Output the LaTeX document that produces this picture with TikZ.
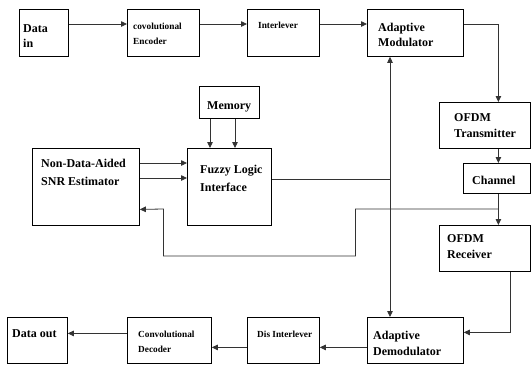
\documentclass[tikz,border=0pt]{standalone}
\usepackage{fontspec}
\setmainfont{Liberation Serif}
\usetikzlibrary{arrows.meta}
\begin{document}
\begin{tikzpicture}[x=1pt,y=-1pt,
  box/.style={draw=black,line width=0.8pt,inner sep=0pt,anchor=north west},
  big/.style={inner sep=0pt,anchor=base west,font=\bfseries\fontsize{12}{14}\selectfont},
  small/.style={inner sep=0pt,anchor=base west,font=\bfseries\fontsize{9.3}{11}\selectfont},
  conn/.style={draw=black!80,line width=0.8pt},
  arr/.style={conn,-{Triangle[length=6pt,width=5.5pt]}},
  arrboth/.style={conn,{Triangle[length=6pt,width=5.5pt]}-{Triangle[length=6pt,width=5.5pt]}}]
\useasboundingbox (0,0) rectangle (531,365);
% boxes
\node[box,minimum width=49pt,minimum height=47pt] (datain) at (19,9) {};
\node[box,minimum width=72pt,minimum height=47pt] (enc) at (127,9) {};
\node[box,minimum width=72pt,minimum height=47pt] (intl) at (247,9) {};
\node[box,minimum width=96pt,minimum height=47pt] (amod) at (367,9) {};
\node[box,minimum width=91pt,minimum height=46pt] (ofdmtx) at (439,102) {};
\node[box,minimum width=67pt,minimum height=30pt] (chan) at (463,163) {};
\node[box,minimum width=91pt,minimum height=46pt] (ofdmrx) at (439,225) {};
\node[box,minimum width=96pt,minimum height=46pt] (ademod) at (367,317) {};
\node[box,minimum width=72pt,minimum height=46pt] (dint) at (247,317) {};
\node[box,minimum width=84pt,minimum height=46pt] (dec) at (127,317) {};
\node[box,minimum width=60pt,minimum height=46pt] (dout) at (7,317) {};
\node[box,minimum width=60pt,minimum height=32pt] (mem) at (199,86) {};
\node[box,minimum width=84pt,minimum height=77pt] (fuzzy) at (187,148) {};
\node[box,minimum width=107pt,minimum height=77pt] (nda) at (32,148) {};
% texts
\node[big] (t1) at (23,32) {Data};
\node[big] (t2) at (23,47) {in};
\node[small] (t3) at (133,29) {covolutional};
\node[small] (t4) at (133,44) {Encoder};
\node[small] (t5) at (258,28) {Interlever};
\node[big] (t6) at (378,31) {Adaptive};
\node[big] (t7) at (378,46) {Modulator};
\node[big] (t8) at (454,121) {OFDM};
\node[big] (t9) at (454,137) {Transmitter};
\node[big] (t10) at (472,184) {Channel};
\node[big] (t11) at (447,242) {OFDM};
\node[big] (t12) at (447,258) {Receiver};
\node[big] (t13) at (373,339) {Adaptive};
\node[big] (t14) at (373,355) {Demodulator};
\node[small] (t15) at (257,337) {Dis Interlever};
\node[small] (t16) at (138,337) {Convolutional};
\node[small] (t17) at (138,352) {Decoder};
\node[big] (t18) at (12,337) {Data out};
\node[big] (t19) at (207,109) {Memory};
\node[big] (t20) at (200,173) {Fuzzy Logic};
\node[big] (t21) at (200,191) {Interface};
\node[big] (t22) at (41,167) {Non-Data-Aided};
\node[big] (t23) at (41,185) {SNR Estimator};
% connectors top row
\draw[arr] ([yshift=-15pt]datain.north east) -- ([yshift=-15pt]enc.north west);
\draw[arr] ([yshift=-15pt]enc.north east) -- ([yshift=-15pt]intl.north west);
\draw[arr] ([yshift=-15pt]intl.north east) -- ([yshift=-15pt]amod.north west);
\draw[arr] ([yshift=-15pt]amod.north east) -| ([xshift=13.5pt]ofdmtx.north);
\draw[arr] ([xshift=13.5pt]ofdmtx.south) -- ([xshift=13.5pt]ofdmtx.south |- chan.north);
\draw[arr] ([xshift=13.5pt]ofdmtx.south |- chan.south) -- ([xshift=13.5pt]ofdmrx.north);
% feedback to SNR estimator
\coordinate (tap) at ([xshift=13.5pt,yshift=16pt]ofdmrx.north);
\draw[arr] (tap) -- ++(-143,0) -- ++(0,47) -- ++(-192,0) -- ++(0,-47) -- ([yshift=-22.5pt]nda.east);
% estimator to fuzzy
\draw[arr] ([yshift=-15pt]nda.north east) -- ([yshift=-15pt]fuzzy.north west);
\draw[arr] ([yshift=-30pt]nda.north east) -- ([yshift=-30pt]fuzzy.north west);
% memory to fuzzy
\draw[arr] ([xshift=11pt]mem.south west) -- ([xshift=11pt]mem.south west |- fuzzy.north);
\draw[arr] ([xshift=36pt]mem.south west) -- ([xshift=36pt]mem.south west |- fuzzy.north);
% fuzzy to vertical control line
\coordinate (vl) at ([xshift=23pt]amod.south west);
\coordinate (fo) at ([yshift=-31pt]fuzzy.north east);
\draw[conn] (fo) -- (fo -| vl);
\draw[arrboth] (vl) -- (vl |- ademod.north);
% receiver to demodulator
\draw[arr] ([xshift=25.5pt]ofdmrx.south) |- ([yshift=8pt]ademod.east);
% bottom row
\draw[arr] ([yshift=-7pt]ademod.west) -- ([yshift=-7pt]dint.east);
\draw[arr] ([yshift=-7pt]dint.west) -- ([yshift=-7pt]dec.east);
\draw[arr] ([yshift=7pt]dec.west) -- ([yshift=7pt]dout.east);
\end{tikzpicture}
\end{document}
